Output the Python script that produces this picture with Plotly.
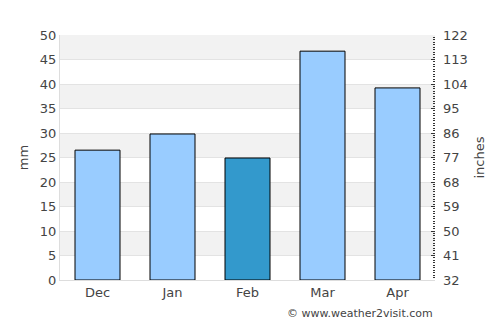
import plotly.graph_objects as go

months = ["Dec", "Jan", "Feb", "Mar", "Apr"]
rain_mm = [26.5, 29.8, 24.9, 46.7, 39.2]
bar_colors = ["#99ccff", "#99ccff", "#3399cc", "#99ccff", "#99ccff"]
left_ticks = [0, 5, 10, 15, 20, 25, 30, 35, 40, 45, 50]
right_ticks = [32, 41, 50, 59, 68, 77, 86, 95, 104, 113, 122]

fig = go.Figure()
fig.add_trace(go.Bar(x=months, y=rain_mm, marker=dict(color=bar_colors, line=dict(color="black", width=1)),
                     width=0.6, hoverinfo="skip", showlegend=False))
fig.add_trace(go.Scatter(x=months, y=[None]*len(months), yaxis="y2", showlegend=False, hoverinfo="skip"))

shapes = []
for lo in range(5, 50, 10):
    shapes.append(dict(type="rect", xref="paper", yref="y", x0=0, x1=1, y0=lo, y1=lo + 5,
                       fillcolor="#f2f2f2", line=dict(width=0), layer="below"))

font = dict(family="DejaVu Sans", size=13, color="#444")
fig.update_layout(
    width=500, height=325,
    margin=dict(l=60, r=65, t=35, b=45),
    paper_bgcolor="white", plot_bgcolor="white",
    shapes=shapes,
    font=font,
    xaxis=dict(showline=True, linecolor="#dddddd", linewidth=1, tickfont=font, ticks="", fixedrange=True),
    yaxis=dict(range=[0, 50], tickvals=left_ticks, showgrid=True, gridcolor="#e3e3e3", gridwidth=1,
               showline=True, linecolor="#dddddd", zeroline=False, tickfont=font,
               title=dict(text="mm", font=font, standoff=8)),
    yaxis2=dict(range=[32, 122], tickvals=right_ticks, overlaying="y", side="right", showgrid=False,
                zeroline=False, showline=False, ticks="inside", ticklen=4, tickcolor="#333",
                ticklabelstandoff=7,
                minor=dict(dtick=0.9, tick0=32, ticks="inside", ticklen=2, tickcolor="#333"),
                tickfont=font, title=dict(text="inches", font=font, standoff=8)),
    bargap=0.4,
)
fig.add_annotation(text="© www.weather2visit.com", xref="paper", yref="paper", x=1, y=-0.135,
                   xanchor="right", yanchor="middle", showarrow=False,
                   font=dict(family="DejaVu Sans", size=11, color="#444"))
fig.write_html("out.html")
